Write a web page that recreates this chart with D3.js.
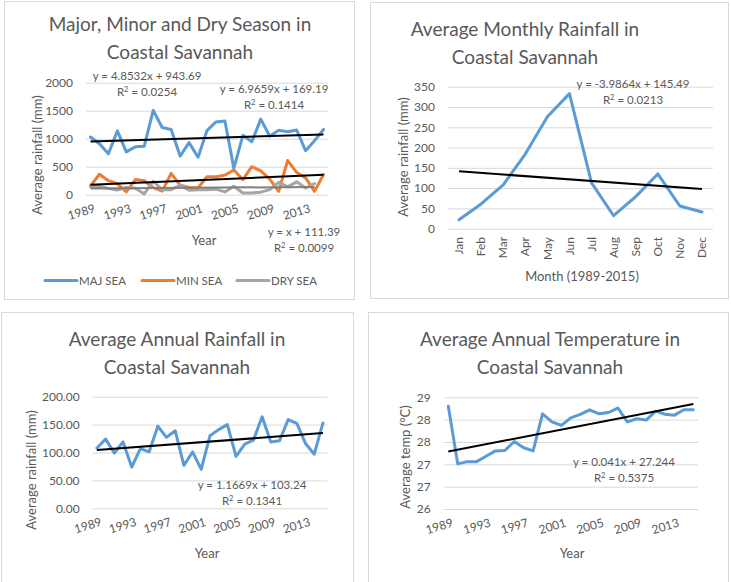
<!DOCTYPE html>
<html><head><meta charset="utf-8">
<script src="https://cdn.jsdelivr.net/npm/d3@7"></script>
<style>
body{margin:0;background:#fff}
svg{display:block}
text{font-family:Lato,"Open Sans",sans-serif;fill:#595959}
</style>
</head><body>
<svg id="c" width="731" height="582"></svg>
<script>
// ---------- data ----------
const years = ["1989","1990","1991","1992","1993","1994","1995","1996","1997","1998","1999","2000","2001","2002","2003","2004","2005","2006","2007","2008","2009","2010","2011","2012","2013","2014","2015"];
const yearTickLabels = ["1989","1993","1997","2001","2005","2009","2013"];

const majSea = [1030,910,730,1140,765,855,865,1505,1200,1165,690,930,670,1145,1300,1315,470,1060,945,1350,1045,1150,1125,1155,785,965,1165];
const minSea = [155,365,250,195,50,270,250,125,65,380,170,130,125,320,320,350,440,270,500,425,280,60,610,400,300,60,360];
const drySea = [140,150,110,85,130,115,15,240,90,90,170,80,90,90,100,50,150,30,30,45,90,220,140,230,120,200];
const seasonNames = ["MAJ SEA","MIN SEA","DRY SEA"];
const seasonTicks = [0,500,1000,1500,2000];
const trendMaj = [4.8532, 943.69];
const trendMin = [6.9659, 169.19];
const trendDry = [1, 111.39];

const months = ["Jan","Feb","Mar","Apr","May","Jun","Jul","Aug","Sep","Oct","Nov","Dec"];
const monthlyRain = [22,61,108,184,276,333,113,32,79,135,56,41];
const monthlyTicks = [0,50,100,150,200,250,300,350];
const trendMonthly = [-3.9864, 145.49];

const annualRain = [108,124,99,119,74,107,101,147,127,139,77,101,70,130,141,150,93,115,122,164,119,121,159,152,116,97,153];
const annualRainTicks = [0,50,100,150,200];
const trendAnnual = [1.1669, 103.24];

const annualTemp = [28.30,27.01,27.06,27.06,27.18,27.30,27.31,27.51,27.37,27.30,28.13,27.95,27.87,28.04,28.12,28.22,28.13,28.16,28.26,27.95,28.02,27.99,28.19,28.12,28.10,28.22,28.22];
const tempTicks = [26,26.5,27,27.5,28,28.5];
const tempTickLabels = ["26","27","27","28","28","29"];
const trendTemp = [0.041, 27.244];

// ---------- helpers ----------
const svg = d3.select("#c");
const BLUE="#5B9BD5", ORANGE="#ED7D31", GRAY="#A5A5A5", GRID="#D9D9D9";

function border(x,y,w,h){
  svg.append("rect").attr("x",x).attr("y",y).attr("width",w).attr("height",h)
    .attr("fill","#fff").attr("stroke",GRID).attr("stroke-width",1);
}
function title(cx, lines, y0){
  lines.forEach((t,i)=>svg.append("text").attr("x",cx).attr("y",y0+i*28)
    .attr("text-anchor","middle").attr("font-size",19).text(t));
}
function yAxis(g, y, ticks, x0, x1, fmt){
  const ax = d3.axisLeft(y).tickValues(ticks).tickSize(-(x1-x0)).tickPadding(13).tickFormat(fmt);
  const a = g.append("g").attr("transform",`translate(${x0},0)`).call(ax);
  a.select(".domain").remove();
  a.selectAll("line").attr("stroke",GRID).attr("stroke-width",1);
  a.selectAll("text").attr("font-size",12).attr("fill","#595959").style("font-family","Lato");
}
function yearLabels(g, x, y0){
  g.append("g").selectAll("text").data(yearTickLabels).join("text")
    .attr("transform",d=>`translate(${x(d)+x.bandwidth()/2+3},${y0+9}) rotate(-17)`)
    .attr("text-anchor","end").attr("dy","0.71em").attr("font-size",12).text(d=>d);
}
function axisTitleY(cx, cy, t){
  svg.append("text").attr("transform",`translate(${cx},${cy}) rotate(-90)`)
    .attr("text-anchor","middle").attr("dy","0.35em").attr("font-size",13).text(t);
}
function axisTitleX(cx, cy, t){
  svg.append("text").attr("x",cx).attr("y",cy).attr("text-anchor","middle")
    .attr("dy","0.35em").attr("font-size",13).text(t);
}
function eqLabel(cx, cy, eq, r2){
  svg.append("text").attr("x",cx).attr("y",cy).attr("text-anchor","middle").attr("dy","0.35em")
    .attr("font-size",11.5).text(eq);
  const t = svg.append("text").attr("x",cx).attr("y",cy+16).attr("text-anchor","middle").attr("dy","0.35em")
    .attr("font-size",11.5);
  t.append("tspan").text("R");
  t.append("tspan").attr("font-size",7.5).attr("dy","-4").text("2");
  t.append("tspan").attr("dy","4").text(" = "+r2);
}
function series(g, x, y, cats, vals, color){
  const line = d3.line().x((d,i)=>x(cats[i])+x.bandwidth()/2).y(d=>y(d));
  g.append("path").datum(vals).attr("d",line).attr("fill","none").attr("stroke",color)
    .attr("stroke-width",3).attr("stroke-linejoin","round").attr("stroke-linecap","round");
}
function trend(g, x, y, cats, n, coef, color, w){
  const pts = [1,n].map(k=>[x(cats[k-1])+x.bandwidth()/2, y(coef[0]*k+coef[1])]);
  g.append("path").attr("d",d3.line()(pts)).attr("fill","none").attr("stroke",color).attr("stroke-width",w);
}

// ---------- panel 1: seasons ----------
border(4.5,1.5,350,298);
title(180,["Major, Minor and Dry Season in","Coastal Savannah"],31);
{
  const x = d3.scaleBand().domain(years).range([86,328]);
  const y = d3.scaleLinear().domain([0,2000]).range([194.7,82.7]);
  const g = svg.append("g");
  yAxis(g,y,seasonTicks,86,328,d3.format("d"));
  series(g,x,y,years,majSea,BLUE);
  series(g,x,y,years,minSea,ORANGE);
  series(g,x,y,years.slice(0,drySea.length),drySea,GRAY);
  trend(g,x,y,years,27,trendMaj,"#000",2);
  trend(g,x,y,years,27,trendMin,"#000",2);
  trend(g,x,y,years,drySea.length,trendDry,"#7F7F7F",2);
  yearLabels(g,x,194.7);
  axisTitleY(37,155,"Average rainfall (mm)");
  axisTitleX(204,240,"Year");
  eqLabel(147,76,"y = 4.8532x + 943.69","0.0254");
  eqLabel(274,89,"y = 6.9659x + 169.19","0.1414");
  eqLabel(304,232,"y = x + 111.39","0.0099");
  const colors=[BLUE,ORANGE,GRAY];
  const lx=[45,142,237];
  const lg = svg.append("g").selectAll("g").data(seasonNames).join("g")
    .attr("transform",(d,i)=>`translate(${lx[i]},280.5)`);
  lg.append("line").attr("x1",0).attr("x2",32).attr("stroke",(d,i)=>colors[i]).attr("stroke-width",3).attr("stroke-linecap","round");
  lg.append("text").attr("x",34).attr("dy","0.35em").attr("font-size",11.5).text(d=>d);
}

// ---------- panel 2: monthly ----------
border(370.5,2.5,358,296);
title(525,["Average Monthly Rainfall in","Coastal Savannah"],36);
{
  const x = d3.scaleBand().domain(months).range([448,713]);
  const y = d3.scaleLinear().domain([0,350]).range([228.7,86.7]);
  const g = svg.append("g");
  yAxis(g,y,monthlyTicks,448,713,d3.format("d"));
  series(g,x,y,months,monthlyRain,BLUE);
  trend(g,x,y,months,12,trendMonthly,"#000",2);
  g.append("g").selectAll("text").data(months).join("text")
    .attr("transform",d=>`translate(${x(d)+x.bandwidth()/2},237) rotate(-90)`)
    .attr("text-anchor","end").attr("dy","0.35em").attr("font-size",12).text(d=>d);
  axisTitleY(403,157,"Average rainfall (mm)");
  axisTitleX(582,276,"Month (1989-2015)");
  eqLabel(633,84,"y = -3.9864x + 145.49","0.0213");
}

// ---------- panel 3: annual rainfall ----------
border(1.5,312.5,352,275);
title(177,["Average Annual Rainfall in","Coastal Savannah"],346);
{
  const x = d3.scaleBand().domain(years).range([92.6,327.3]);
  const y = d3.scaleLinear().domain([0,200]).range([508.3,396.7]);
  const g = svg.append("g");
  yAxis(g,y,annualRainTicks,92.6,327.3,d3.format(".2f"));
  series(g,x,y,years,annualRain,BLUE);
  trend(g,x,y,years,27,trendAnnual,"#000",2);
  yearLabels(g,x,508.3);
  axisTitleY(31,470,"Average rainfall (mm)");
  axisTitleX(207,553,"Year");
  eqLabel(252,485,"y = 1.1669x + 103.24","0.1341");
}

// ---------- panel 4: annual temperature ----------
border(368.5,312.5,360,275);
title(550,["Average Annual Temperature in","Coastal Savannah"],346);
{
  const x = d3.scaleBand().domain(years).range([443.6,698]);
  const y = d3.scaleLinear().domain([26,28.5]).range([509,397.3]);
  const g = svg.append("g");
  yAxis(g,y,tempTicks,443.6,698,(d,i)=>tempTickLabels[i]);
  series(g,x,y,years,annualTemp,BLUE);
  trend(g,x,y,years,27,trendTemp,"#000",2);
  yearLabels(g,x,509);
  axisTitleY(405,457,"Average temp (°C)");
  axisTitleX(572,553,"Year");
  eqLabel(624,462,"y = 0.041x + 27.244","0.5375");
}
</script>
</body></html>
